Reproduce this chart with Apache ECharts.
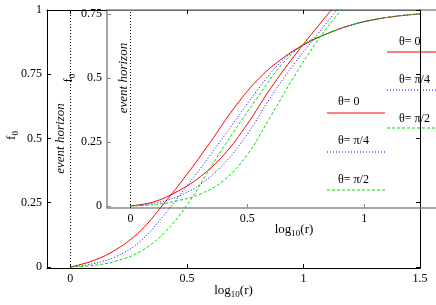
<!DOCTYPE html>
<html><head><meta charset="utf-8">
<script src="https://cdn.jsdelivr.net/npm/echarts@6/dist/echarts.min.js"></script>
<style>html,body{margin:0;padding:0;background:#fff}#c{width:436px;height:305px}</style>
</head><body><div id="c"></div>
<script>
// ---- data ----
const mainX     = [0, 0.1, 0.2, 0.3, 0.4, 0.5, 0.6, 0.7, 0.8, 0.9, 1.0, 1.1, 1.2, 1.3, 1.4, 1.5];
const mainRed   = [0, 0.025, 0.07, 0.14, 0.245, 0.36, 0.485, 0.615, 0.725, 0.805, 0.864, 0.907, 0.94, 0.962, 0.976, 0.985];
const mainBlue  = [0, 0.013, 0.042, 0.10, 0.20, 0.315, 0.435, 0.56, 0.685, 0.795, 0.865, 0.907, 0.94, 0.962, 0.976, 0.985];
const mainGreen = [0, 0.006, 0.024, 0.06, 0.13, 0.24, 0.385, 0.525, 0.655, 0.78, 0.866, 0.908, 0.941, 0.962, 0.976, 0.985];

const insetX     = [0, 0.1, 0.2, 0.3, 0.4, 0.5, 0.6, 0.7, 0.8, 0.9, 1.0];
const insetRed   = [0, 0.016, 0.056, 0.115, 0.2, 0.32, 0.46, 0.585, 0.70, 0.81, 0.92];
const insetBlue  = [0, 0.01, 0.036, 0.085, 0.165, 0.28, 0.425, 0.555, 0.67, 0.785, 0.90];
const insetGreen = [0, 0.005, 0.02, 0.047, 0.1, 0.2, 0.35, 0.505, 0.645, 0.765, 0.88];

const mainXTicks  = [0, 0.5, 1, 1.5];
const mainYTicks  = [0, 0.25, 0.5, 0.75, 1];
const insetXTicks = [0, 0.5, 1, 1.5];
const insetYTicks = [0, 0.25, 0.5, 0.75];
const legendLabels = ['θ= 0', 'θ= π/4', 'θ= π/2'];
const horizonLabel = 'event horizon';
const xTitle = ['log', '10', '(r)'];   // log_10(r)
const yTitle = ['f', '0'];             // f_0

// ---- styles ----
const FONT = "'Liberation Serif','DejaVu Serif',serif";
const colors = ['#ff0000', '#0000ff', '#00dd00'];
const dashes = ['solid', [1, 2], [3, 2]];
const GRAY = '#8a8a8a';

const pair = (xs, ys) => xs.map((x, i) => [x, ys[i]]);
const labelStyle = { fontFamily: FONT, fontSize: 12, color: '#000' };

function xAx(grid, pos, ticks, showLabels, color, width, showTicks) {
  return {
    type: 'value', gridIndex: grid, position: pos, min: -0.1, max: 1.5,
    axisLine: { show: true, onZero: false, lineStyle: { color: color, width: width } },
    axisTick: { show: showTicks, inside: true, length: 4, customValues: ticks, lineStyle: { color: color } },
    axisLabel: { show: showLabels, customValues: ticks, margin: 5, ...labelStyle },
    splitLine: { show: false }
  };
}
function yAx(grid, pos, min, max, ticks, showLabels, color, width) {
  return {
    type: 'value', gridIndex: grid, position: pos, min: min, max: max,
    axisLine: { show: true, onZero: false, lineStyle: { color: color, width: width } },
    axisTick: { show: true, inside: true, length: 4, customValues: ticks, lineStyle: { color: color } },
    axisLabel: { show: showLabels, customValues: ticks, margin: 5, ...labelStyle },
    splitLine: { show: false }
  };
}
function ser(xi, yi, xs, ys, k, mark) {
  const s = {
    type: 'line', xAxisIndex: xi, yAxisIndex: yi, data: pair(xs, ys),
    showSymbol: false, smooth: 0.4, clip: true,
    lineStyle: { color: colors[k], width: 1, type: dashes[k] }
  };
  if (mark) {
    s.markLine = {
      silent: true, symbol: 'none', label: { show: false },
      lineStyle: { color: '#000', width: 1, type: [1, 2] },
      data: [{ xAxis: 0 }]
    };
  }
  return s;
}

const chart = echarts.init(document.getElementById('c'), null, { renderer: 'canvas' });
chart.setOption({
  animation: false,
  backgroundColor: '#fff',
  grid: [
    { left: 47, top: 10, width: 373, height: 258, containLabel: false, outerBoundsMode: 'none' },
    { left: 107, top: 10, width: 374, height: 198, containLabel: false, outerBoundsMode: 'none' }
  ],
  xAxis: [
    xAx(0, 'bottom', mainXTicks, true, '#000', 1, true),
    xAx(0, 'top', mainXTicks, false, '#000', 1, true),
    xAx(1, 'bottom', insetXTicks, true, GRAY, 1.5, true),
    xAx(1, 'top', insetXTicks, false, GRAY, 1.5, false)
  ],
  yAxis: [
    yAx(0, 'left', -0.004, 1, mainYTicks, true, '#000', 1),
    yAx(0, 'right', -0.004, 1, mainYTicks, false, '#000', 1),
    yAx(1, 'left', -0.008, 0.766, insetYTicks, true, GRAY, 1.5)
  ],
  series: [
    ser(0, 0, mainX, mainRed, 0, true),
    ser(0, 0, mainX, mainBlue, 1),
    ser(0, 0, mainX, mainGreen, 2),
    ser(2, 2, insetX, insetRed, 0, true),
    ser(2, 2, insetX, insetBlue, 1),
    ser(2, 2, insetX, insetGreen, 2)
  ]
});

// ---- annotations positioned from the axes ----
const mctx = document.createElement('canvas').getContext('2d');
const tw = (t, size) => { mctx.font = size + 'px ' + FONT; return mctx.measureText(t).width; };
const txt = (x, y, text, size, rot, extra) => ({
  type: 'text', x: x, y: y, rotation: rot,
  style: Object.assign({ text: text, fontFamily: FONT, fontSize: size, fill: '#000', align: 'left', verticalAlign: 'middle' }, extra || {})
});
const graphics = [];
// x titles: log_10(r), centred under each plot
function xTitleAt(cx, cy) {
  const w0 = tw(xTitle[0], 13), w1 = tw(xTitle[1], 9), w2 = tw(xTitle[2], 13);
  let x = cx - (w0 + w1 + w2) / 2;
  graphics.push(txt(x, cy, xTitle[0], 13, 0)); x += w0;
  graphics.push(txt(x, cy + 4, xTitle[1], 9, 0)); x += w1;
  graphics.push(txt(x, cy, xTitle[2], 13, 0));
}
// y titles: f_0, rotated to read upward
function yTitleAt(cx, cy) {
  const w0 = tw(yTitle[0], 13), w1 = tw(yTitle[1], 9);
  const start = cy + (w0 + w1) / 2;
  graphics.push(txt(cx, start, yTitle[0], 13, Math.PI / 2));
  graphics.push(txt(cx + 4, start - w0, yTitle[1], 9, Math.PI / 2));
}
const mainMid = chart.convertToPixel({ gridIndex: 0 }, [0.7, -0.004]);
const insetMid = chart.convertToPixel({ gridIndex: 1 }, [0.7, -0.008]);
xTitleAt(mainMid[0], mainMid[1] + 23);
xTitleAt(insetMid[0], insetMid[1] + 22);
const mainY = chart.convertToPixel({ gridIndex: 0 }, [-0.1, 0.5]);
const insetY = chart.convertToPixel({ gridIndex: 1 }, [-0.1, 0.5]);
yTitleAt(mainY[0] - 35, mainY[1] - 3);
yTitleAt(insetY[0] - 38, insetY[1]);
// event horizon labels
const pMain = chart.convertToPixel({ gridIndex: 0 }, [0, 0.5]);
const pInset = chart.convertToPixel({ gridIndex: 1 }, [0, 0.5]);
graphics.push(txt(pMain[0] - 10, pMain[1], horizonLabel, 13, Math.PI / 2, { fontStyle: 'italic', align: 'center' }));
graphics.push(txt(pInset[0] - 7, pInset[1], horizonLabel, 13, Math.PI / 2, { fontStyle: 'italic', align: 'center' }));
// legends: text above a line sample
const legends = [
  { tx: 399, lx1: 387, lx2: 436, ty: [42, 80, 119], ly: [52, 90, 128] },
  { tx: 338, lx1: 327, lx2: 385, ty: [102, 141, 180], ly: [113, 152, 190] }
];
legends.forEach(L => {
  legendLabels.forEach((lab, k) => {
    graphics.push(txt(L.tx, L.ty[k], lab, 12, 0));
    graphics.push({ type: 'line', shape: { x1: L.lx1, y1: L.ly[k], x2: L.lx2, y2: L.ly[k] },
      style: { stroke: colors[k], lineWidth: 1, lineDash: k === 0 ? null : dashes[k] } });
  });
});
chart.setOption({ graphic: graphics });
</script>
</body></html>
